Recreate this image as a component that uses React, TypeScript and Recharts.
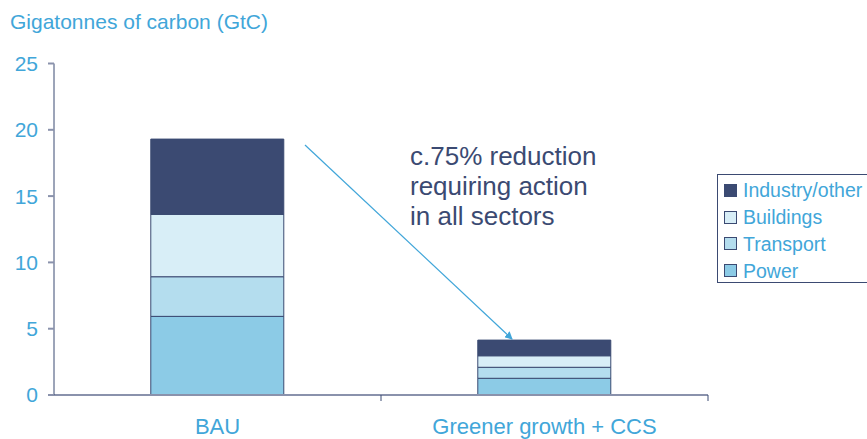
import { BarChart, Bar, XAxis, YAxis } from 'recharts';

const scenarios = ['BAU', 'Greener growth + CCS'];
const power = [5.93, 1.26];
const transport = [2.99, 0.83];
const buildings = [4.7, 0.87];
const industry = [5.68, 1.18];
const yTicks = [0, 5, 10, 15, 20, 25];

const seriesList = [
  { key: 'power', name: 'Power', color: '#8ccbe6' },
  { key: 'transport', name: 'Transport', color: '#b4ddee' },
  { key: 'buildings', name: 'Buildings', color: '#d8eef7' },
  { key: 'industry', name: 'Industry/other', color: '#3b4a72' },
];

const data = scenarios.map((s, i) => ({
  scenario: s,
  power: power[i],
  transport: transport[i],
  buildings: buildings[i],
  industry: industry[i],
}));

const BLUE = '#41a6d9';
const NAVY = '#3b4a72';
const FONT = '"Liberation Sans", Arial, sans-serif';

function CategoryTick(props: any) {
  const { x, payload } = props;
  const half = payload.offset ?? 0;
  return (
    <g>
      <line x1={x + half} x2={x + half} y1={395} y2={401} stroke={NAVY} strokeWidth={1} />
      <text x={x} y={434} textAnchor="middle" fill={BLUE} fontSize={22} fontFamily={FONT}>
        {payload.value}
      </text>
    </g>
  );
}

// legend drawn outside the chart so it doesn't shrink the plot area
function LegendBox() {
  const items = [...seriesList].reverse();
  return (
    <div
      style={{
        position: 'absolute',
        left: 717,
        top: 174,
        border: `1px solid ${NAVY}`,
        borderRight: 'none',
        padding: '2px 0 0 6px',
        width: 150,
        height: 109,
        boxSizing: 'border-box',
        fontFamily: FONT,
      }}
    >
      {items.map((it) => (
        <div key={it.key} style={{ display: 'flex', alignItems: 'center', height: 26.8 }}>
          <span
            style={{
              display: 'inline-block',
              width: 11,
              height: 11,
              background: it.color,
              border: `1px solid ${NAVY}`,
              marginRight: 6,
            }}
          />
          <span style={{ color: BLUE, fontSize: 19.5, lineHeight: '20px' }}>{it.name}</span>
        </div>
      ))}
    </div>
  );
}

export default function App() {
  return (
    <div style={{ position: 'absolute', left: 0, top: 0, width: 867, height: 439, overflow: 'hidden', background: '#fff' }}>
      <BarChart
        width={867}
        height={439}
        data={data}
        margin={{ top: 63.5, right: 159, bottom: 0, left: 0 }}
        barCategoryGap="29.6%"
      >
        <XAxis
          dataKey="scenario"
          height={44}
          axisLine={{ stroke: '#8a92ac', strokeWidth: 2 }}
          tickLine={false}
          tick={<CategoryTick />}
          interval={0}
        />
        <YAxis
          width={54}
          domain={[0, 25]}
          ticks={yTicks}
          interval={0}
          axisLine={{ stroke: NAVY }}
          tickLine={{ stroke: '#8a92ac', strokeWidth: 2 }}
          tickSize={6}
          tickMargin={10}
          tick={{ fill: BLUE, fontSize: 21, fontFamily: FONT }}
        />
        {seriesList.map((s) => (
          <Bar
            key={s.key}
            dataKey={s.key}
            name={s.name}
            stackId="a"
            fill={s.color}
            stroke={NAVY}
            strokeWidth={1}
            isAnimationActive={false}
          />
        ))}
      </BarChart>
      <LegendBox />
      <svg
        width={867}
        height={439}
        style={{ position: 'absolute', left: 0, top: 0, pointerEvents: 'none' }}
      >
        <defs>
          <marker id="arrowHead" markerWidth="8" markerHeight="8" refX="7" refY="4" orient="auto" markerUnits="userSpaceOnUse">
            <path d="M0,0 L8,4 L0,8 Z" fill={BLUE} />
          </marker>
        </defs>
        <text x={10} y={29} fill={BLUE} fontSize={21} fontFamily={FONT}>
          Gigatonnes of carbon (GtC)
        </text>
        <text fill={NAVY} fontSize={26} fontFamily={FONT}>
          <tspan x={410} y={165}>c.75% reduction</tspan>
          <tspan x={410} y={195}>requiring action</tspan>
          <tspan x={410} y={225}>in all sectors</tspan>
        </text>
        <line x1={305} y1={145} x2={512} y2={339} stroke={BLUE} strokeWidth={1.2} markerEnd="url(#arrowHead)" />
      </svg>
    </div>
  );
}
